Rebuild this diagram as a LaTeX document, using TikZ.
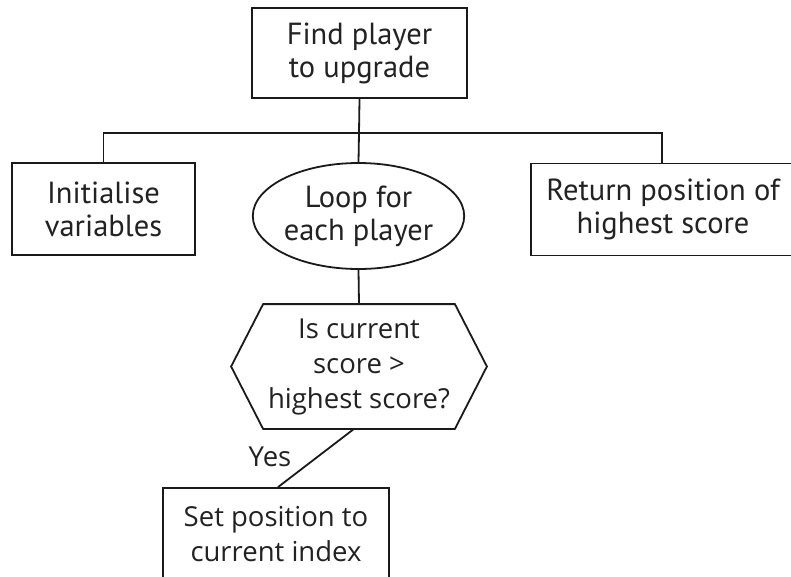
\documentclass[tikz,border=0pt]{standalone}
\usepackage{fontspec}
\setmainfont{PT Sans}
\newfontfamily\fontbfam{Open Sans}
\usetikzlibrary{shapes.geometric}
\definecolor{lin}{HTML}{1A1A1A}
\definecolor{txt}{HTML}{222222}
\newcommand{\fa}{\fontsize{30.5}{33}\selectfont}
\newcommand{\fb}{\fontbfam\fontsize{27.5}{35}\selectfont}
\begin{document}
\begin{tikzpicture}[x=1pt,y=-1pt,line width=1.8pt,draw=lin,
  box/.style={draw=lin,rectangle,align=center,inner sep=0pt,text=txt,font=\fa},
  oval/.style={draw=lin,ellipse,align=center,inner sep=0pt,text=txt,font=\fa},
  boxb/.style={draw=lin,rectangle,align=center,inner sep=0pt,text=txt,font=\fb},
  plain/.style={align=center,inner sep=0pt,text=txt,font=\fb}]
\clip (0,0) rectangle (791,576);
\node[box,minimum width=215pt,minimum height=90pt] (top) at (359.5,53) {Find player\\to upgrade};
\node[box,minimum width=183pt,minimum height=92pt] (init) at (103.5,209) {Initialise\\variables};
\node[oval,minimum width=201pt,minimum height=106pt] (loop) at (358.5,216) {Loop for\\each player};
\node[box,minimum width=264pt,minimum height=92pt] (ret) at (663,209.5) {Return position of\\highest score};
\node[plain,minimum width=254pt,minimum height=123pt] (hex) at (359,366.5) {Is current\\score >\\highest score?};
\draw (hex.west) -- ([xshift=32pt]hex.north west) -- ([xshift=-32pt]hex.north east) -- (hex.east)
  -- ([xshift=-32pt]hex.south east) -- ([xshift=32pt]hex.south west) -- cycle;
\node[boxb,minimum width=226pt,minimum height=92pt] (set) at (276,534) {Set position to\\current index};
\node[plain] (yes) at (270,457) {Yes};
\coordinate (bus) at (359,133);
\draw (top.south) -- (bus);
\draw (init.north) |- (bus) -| ([xshift=-1pt]ret.north);
\draw (bus) -- (loop.north);
\draw (loop.south) -- (hex.north);
\draw ([xshift=-5pt]hex.south) -- ([xshift=2pt]set.north);
\end{tikzpicture}
\end{document}
